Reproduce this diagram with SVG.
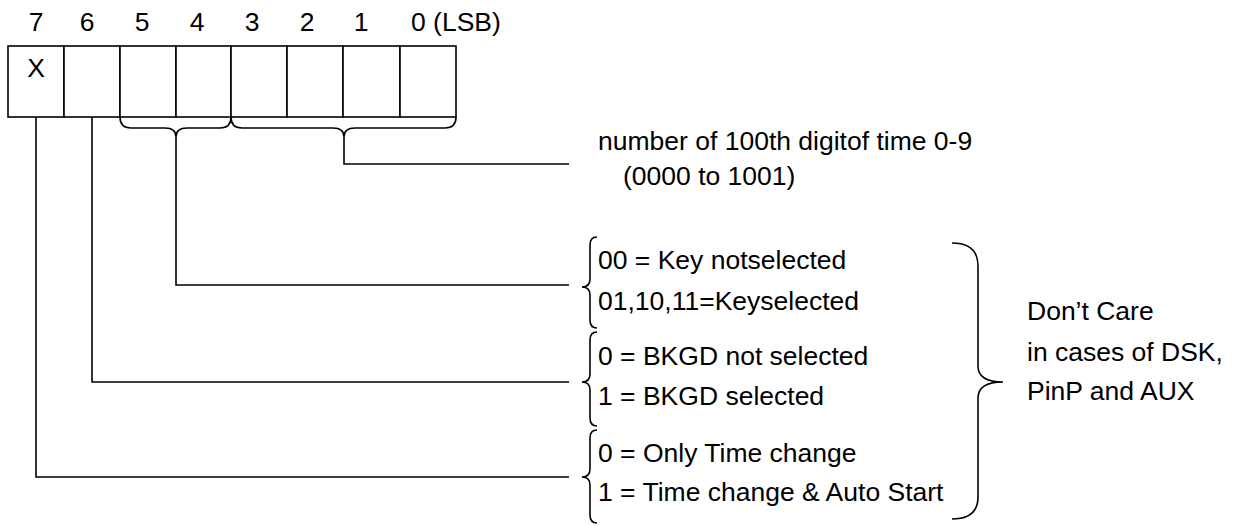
<svg xmlns="http://www.w3.org/2000/svg" width="1241" height="526" viewBox="0 0 1241 526">
<style>
text{font-family:"Liberation Sans",Arial,sans-serif;font-size:26.5px;fill:#000}
.ln{fill:none;stroke:#000;stroke-width:1.6}
.cell{fill:#fff;stroke:#000;stroke-width:1.6}
</style>
<rect width="1241" height="526" fill="#fff"/>
<g id="bit-labels">
<text x="36" y="31" text-anchor="middle">7</text>
<text x="87" y="31" text-anchor="middle">6</text>
<text x="142" y="31" text-anchor="middle">5</text>
<text x="197" y="31" text-anchor="middle">4</text>
<text x="252" y="31" text-anchor="middle">3</text>
<text x="307" y="31" text-anchor="middle">2</text>
<text x="361" y="31" text-anchor="middle">1</text>
<text x="411" y="31">0 (LSB)</text>
</g>
<g id="register">
<rect class="cell" x="8" y="46" width="56" height="71"/>
<rect class="cell" x="64" y="46" width="56" height="71"/>
<rect class="cell" x="120" y="46" width="56" height="71"/>
<rect class="cell" x="176" y="46" width="55" height="71"/>
<rect class="cell" x="231" y="46" width="56" height="71"/>
<rect class="cell" x="287" y="46" width="56" height="71"/>
<rect class="cell" x="343" y="46" width="57" height="71"/>
<rect class="cell" x="400" y="46" width="56" height="71"/>
<text x="36" y="77" text-anchor="middle">X</text>
</g>
<g id="bit-braces">
<path class="ln" d="M120,117 Q120,128 131,128 L165,128 Q176,128 176,137 Q176,128 187,128 L220,128 Q231,128 231,117"/>
<path class="ln" d="M231,117 Q231,128 242,128 L333,128 Q344,128 344,137 Q344,128 355,128 L445,128 Q456,128 456,117"/>
</g>
<g id="connectors">
<path class="ln" d="M344,137 V164 H569"/>
<path class="ln" d="M176,137 V285 H569"/>
<path class="ln" d="M92,117 V382 H569"/>
<path class="ln" d="M36,117 V477 H569"/>
</g>
<g id="digit-label">
<text x="598" y="150">number of 100th digitof time 0-9</text>
<text x="623" y="185">(0000 to 1001)</text>
</g>
<g id="key-select">
<path class="ln" d="M597,237 Q590,237 590,245 V279 Q590,287 582,287 Q590,287 590,295 V320 Q590,328 597,328"/>
<text x="598" y="269">00 = Key notselected</text>
<text x="598" y="310">01,10,11=Keyselected</text>
</g>
<g id="bkgd-select">
<path class="ln" d="M597,332 Q590,332 590,340 V374 Q590,382 582,382 Q590,382 590,390 V418 Q590,426 597,426"/>
<text x="598" y="365">0 = BKGD not selected</text>
<text x="598" y="405">1 = BKGD selected</text>
</g>
<g id="time-change">
<path class="ln" d="M597,430 Q590,430 590,438 V469 Q590,477 582,477 Q590,477 590,485 V515 Q590,523 597,523"/>
<text x="598" y="462">0 = Only Time change</text>
<text x="598" y="501">1 = Time change &amp; Auto Start</text>
</g>
<g id="dont-care">
<path class="ln" d="M952,243 Q978,243 978,266 V366 Q978,382 1003,382 Q978,382 978,398 V497 Q978,519 952,519"/>
<text x="1027" y="320">Don’t Care</text>
<text x="1027" y="361">in cases of DSK,</text>
<text x="1027" y="400">PinP and AUX</text>
</g>
</svg>
